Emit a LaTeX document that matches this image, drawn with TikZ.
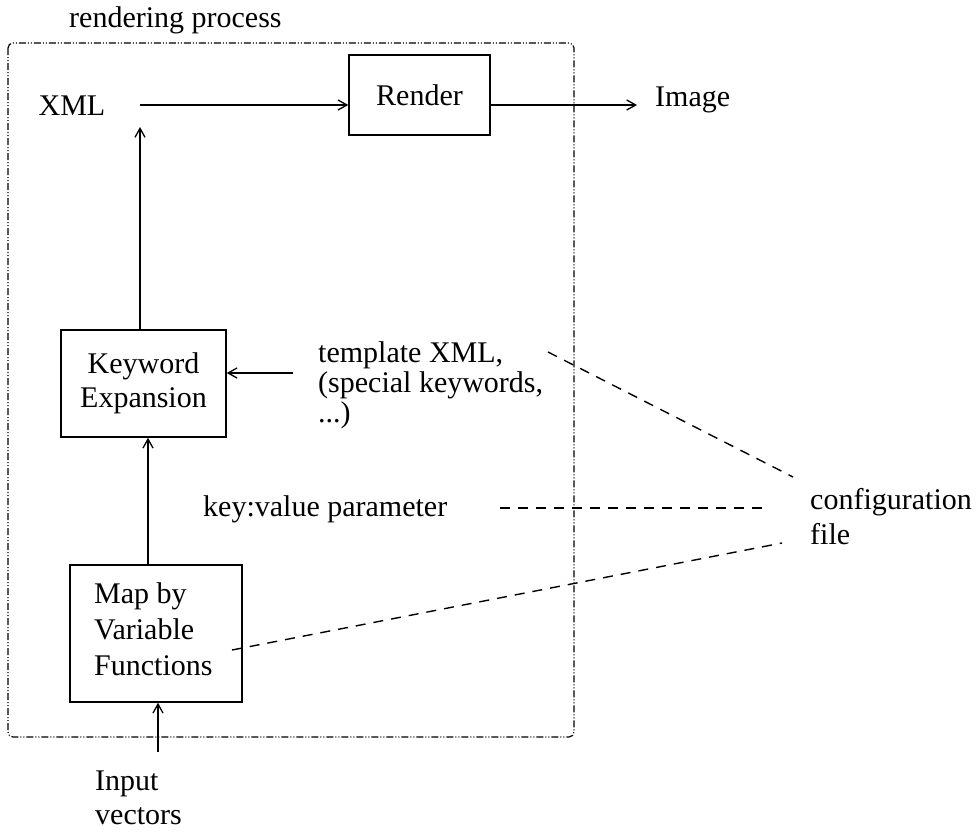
\documentclass[tikz,border=0pt]{standalone}
\usepackage{fontspec}
\setmainfont{Liberation Serif}
\usetikzlibrary{arrows.meta}
\begin{document}
\begin{tikzpicture}[x=1pt,y=-1pt,
  txt/.style={font=\fontsize{30}{30}\selectfont, inner sep=0pt},
  lbl/.style={txt, anchor=west, align=left},
  procbox/.style={draw, line width=1.4pt, inner sep=0pt},
  conn/.style={line width=1.3pt, -{Straight Barb[length=9pt,width=10pt]}},
  cfgline/.style={line width=1.4pt, dash pattern=on 10pt off 8pt},
  outerbox/.style={line width=1.2pt, dash pattern=on 7pt off 2pt on 1pt off 2pt on 1pt off 2pt, rounded corners=5pt}]
\useasboundingbox (0,0) rectangle (976,835);
% outer frame
\draw[outerbox] (8,43) rectangle (574,737);
\node[lbl] (title) at (69,20) {rendering process};
% nodes
\node[txt] (xml) at (72,106) {XML};
\node[procbox, minimum width=141pt, minimum height=80pt, txt] (render) at (419.5,95) {Render};
\node[lbl] (image) at (655,100) {Image};
\node[procbox, minimum width=165pt, minimum height=107pt, txt, align=center, font=\fontsize{30}{34}\selectfont] (kw) at (143.5,383.5) {Keyword\\Expansion};
\node[lbl, font=\fontsize{30}{30}\selectfont] (tpl) at (318,385) {template XML,\\(special keywords,\\...)};
\node[lbl] (kv) at (203,509) {key:value parameter};
\node[procbox, minimum width=172pt, minimum height=137pt] (map) at (156,633.5) {};
\node[lbl, font=\fontsize{30}{36}\selectfont] (maptxt) at (94,629) {Map by\\Variable\\Functions};
\node[lbl, font=\fontsize{30}{34}\selectfont] (input) at (95,798) {Input\\vectors};
\node[lbl, font=\fontsize{30}{35}\selectfont] (cfg) at (810,517) {configuration\\file};
% coordinates
\coordinate (xmlend) at (140,105);
\coordinate (xmlup) at (140,127);
\coordinate (midx) at (148,0);
\coordinate (tplstart) at (293,373);
\coordinate (imgtip) at (637,105);
\coordinate (inbot) at (158,752);
\coordinate (tplA) at (548,352);
\coordinate (cfgA) at (793,477);
\coordinate (kvA) at (500,508);
\coordinate (cfgB) at (763,508);
\coordinate (mapA) at (232,650);
\coordinate (cfgC) at (782,543);
% connectors
\draw[conn] (xmlend) -- (xmlend -| render.west);
\draw[conn] (xmlend -| render.east) -- (imgtip);
\draw[conn] (kw.north -| xmlup) -- (xmlup);
\draw[conn] (tplstart) -- (tplstart -| kw.east);
\draw[conn] (map.north -| midx) -- (kw.south -| midx);
\draw[conn] (inbot) -- (inbot |- map.south);
\draw[cfgline] (tplA) -- (cfgA);
\draw[cfgline] (kvA) -- (cfgB);
\draw[cfgline] (mapA) -- (cfgC);
\end{tikzpicture}
\end{document}
